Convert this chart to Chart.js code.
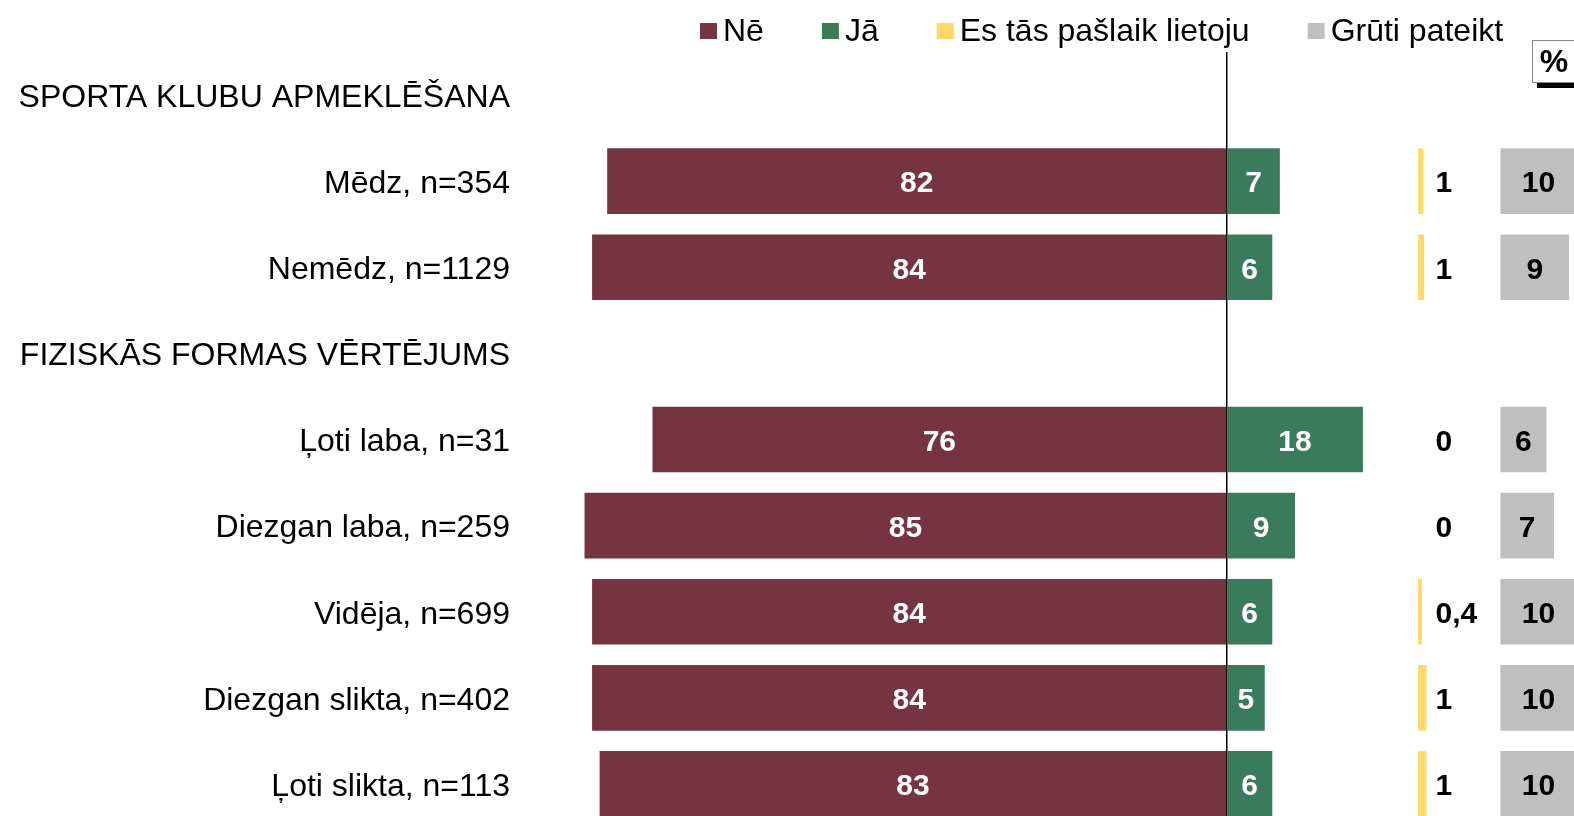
<!DOCTYPE html>
<html>
<head>
<meta charset="utf-8">
<script src="https://cdn.jsdelivr.net/npm/chart.js@4.4.1/dist/chart.umd.min.js"></script>
<style>
  html, body { margin: 0; padding: 0; overflow: hidden; background: #fff; }
  #wrap { width: 1574px; height: 830px; position: relative; }
</style>
</head>
<body>
<div id="wrap"><canvas id="chart"></canvas></div>
<script>
// Rows (headers have no data)
const categories = [
  'SPORTA KLUBU APMEKLĒŠANA',
  'Mēdz, n=354',
  'Nemēdz, n=1129',
  'FIZISKĀS FORMAS VĒRTĒJUMS',
  'Ļoti laba, n=31',
  'Diezgan laba, n=259',
  'Vidēja, n=699',
  'Diezgan slikta, n=402',
  'Ļoti slikta, n=113'
];
const seriesNames = ['Nē', 'Jā', 'Es tās pašlaik lietoju', 'Grūti pateikt'];
const ne     = [null, 82, 84, null, 76, 85, 84, 84, 83];
const ja     = [null, 7, 6, null, 18, 9, 6, 5, 6];
const lieto  = [null, 0.6, 0.7, null, 0, 0, 0.4, 1, 1];
const lietoText = ['', '1', '1', '', '0', '0', '0,4', '1', '1'];
const gruti  = [null, 10, 9, null, 6, 7, 10, 10, 10];
const colors = ['#763341', '#3a7b5c', '#ffd966', '#bfbfbf'];

// where the two right-hand columns start (x-axis units)
const LIETO_START = 25.4;
const GRUTI_START = 36.3;

const FONT = '"Liberation Sans", Arial, sans-serif';

function span(arr, start, dir) {
  return arr.map(v => !v ? null : (dir < 0 ? [start - v, start] : [start, start + v]));
}

/**
 * Numbers on the bars
 */
const valueLabels = {
  id: 'valueLabels',
  afterDatasetsDraw(chart) {
    const ctx = chart.ctx;
    const xs = chart.scales.x;
    const ys = chart.scales.y;
    const values = [ne, ja, lieto, gruti];
    ctx.save();
    ctx.font = 'bold 30px ' + FONT;
    ctx.textBaseline = 'middle';
    values.forEach((vals, di) => {
      vals.forEach((v, i) => {
        if (v == null) return;
        const y = ys.getPixelForValue(i) + 3;
        if (di === 2) {
          ctx.fillStyle = '#000';
          ctx.textAlign = 'left';
          ctx.fillText(lietoText[i], xs.getPixelForValue(LIETO_START) + 17, y);
          return;
        }
        const bar = chart.getDatasetMeta(di).data[i];
        ctx.fillStyle = di === 3 ? '#000' : '#fff';
        ctx.textAlign = 'center';
        ctx.fillText(String(v), (bar.x + bar.base) / 2, y);
      });
    });
    ctx.restore();
  }
};

/**
 * Legend row at the top plus the "%" box
 */
const topLegend = {
  id: 'topLegend',
  afterDraw(chart) {
    const ctx = chart.ctx;
    ctx.save();
    ctx.font = '32px ' + FONT;
    ctx.textBaseline = 'middle';
    ctx.textAlign = 'left';
    let x = 700;
    chart.data.datasets.forEach(ds => {
      ctx.fillStyle = ds.backgroundColor;
      ctx.fillRect(x, 23, 17, 16);
      ctx.fillStyle = '#000';
      ctx.fillText(ds.label, x + 23, 32);
      x += 23 + ctx.measureText(ds.label).width + 58;
    });

    // % box
    ctx.fillStyle = '#fff';
    ctx.fillRect(1532, 40, 46, 43);
    ctx.strokeStyle = '#8a8a8a';
    ctx.lineWidth = 1;
    ctx.strokeRect(1532.5, 40.5, 46, 42);
    ctx.fillStyle = '#000';
    ctx.fillRect(1537, 83, 40, 5);
    ctx.font = 'bold 32px ' + FONT;
    ctx.textAlign = 'center';
    ctx.fillText('%', 1554, 63);
    ctx.restore();
  }
};

new Chart(document.getElementById('chart'), {
  type: 'bar',
  data: {
    labels: categories,
    datasets: [
      { label: seriesNames[0], data: span(ne, 0, -1), backgroundColor: colors[0] },
      { label: seriesNames[1], data: span(ja, 0, 1), backgroundColor: colors[1] },
      { label: seriesNames[2], data: span(lieto, LIETO_START, 1), backgroundColor: colors[2] },
      { label: seriesNames[3], data: span(gruti, GRUTI_START, 1), backgroundColor: colors[3] }
    ]
  },
  options: {
    indexAxis: 'y',
    responsive: true,
    maintainAspectRatio: false,
    animation: false,
    layout: { padding: { top: 52, bottom: 3, left: 0, right: 0 } },
    datasets: { bar: { grouped: false, barThickness: 65, borderWidth: 0 } },
    plugins: {
      legend: { display: false },
      tooltip: { enabled: false }
    },
    scales: {
      x: {
        min: -92,
        max: 46,
        ticks: { display: false, stepSize: 23 },
        grid: {
          drawTicks: false,
          lineWidth: 1.5,
          color: c => (c.tick && c.tick.value === 0) ? '#000' : 'rgba(0,0,0,0)'
        },
        border: { display: false },
        afterFit(scale) { scale.height = 0; }
      },
      y: {
        grid: { display: false, drawTicks: false },
        border: { display: false },
        ticks: { color: '#000', padding: 22, labelOffset: 3, autoSkip: false, font: { family: FONT, size: 32 } },
        afterFit(scale) {
          scale.width = 532;
          scale.paddingTop = 0;
          scale.paddingBottom = 0;
        }
      }
    }
  },
  plugins: [valueLabels, topLegend]
});
</script>
</body>
</html>
